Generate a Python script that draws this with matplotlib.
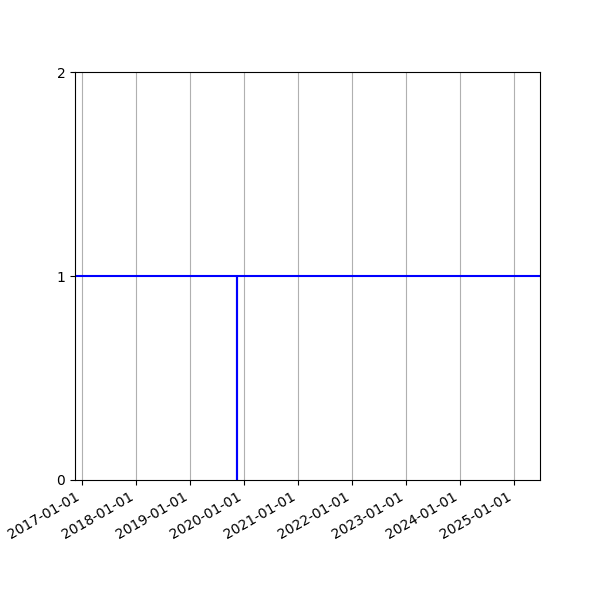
import numpy as np
import matplotlib
matplotlib.use("Agg")
import matplotlib.pyplot as plt
import matplotlib.dates as mdates

# series: flat at 1, one drop to 0 on the event date
dates = np.array(["2016-11-17", "2019-11-13", "2019-11-13", "2019-11-13", "2025-06-24"],
                 dtype="datetime64[D]")
values = [1, 1, 0, 1, 1]

fig, ax = plt.subplots(figsize=(6, 6), dpi=100)
ax.plot(dates, values, color="blue", linewidth=1.5)

ax.set_xlim(dates[0], dates[-1])
ax.set_ylim(0, 2)
ax.set_yticks([0, 1, 2])
ax.xaxis.set_major_locator(mdates.YearLocator())
ax.xaxis.set_major_formatter(mdates.DateFormatter("%Y-%m-%d"))
ax.grid(axis="x")
fig.autofmt_xdate()

fig.savefig("out.png")
